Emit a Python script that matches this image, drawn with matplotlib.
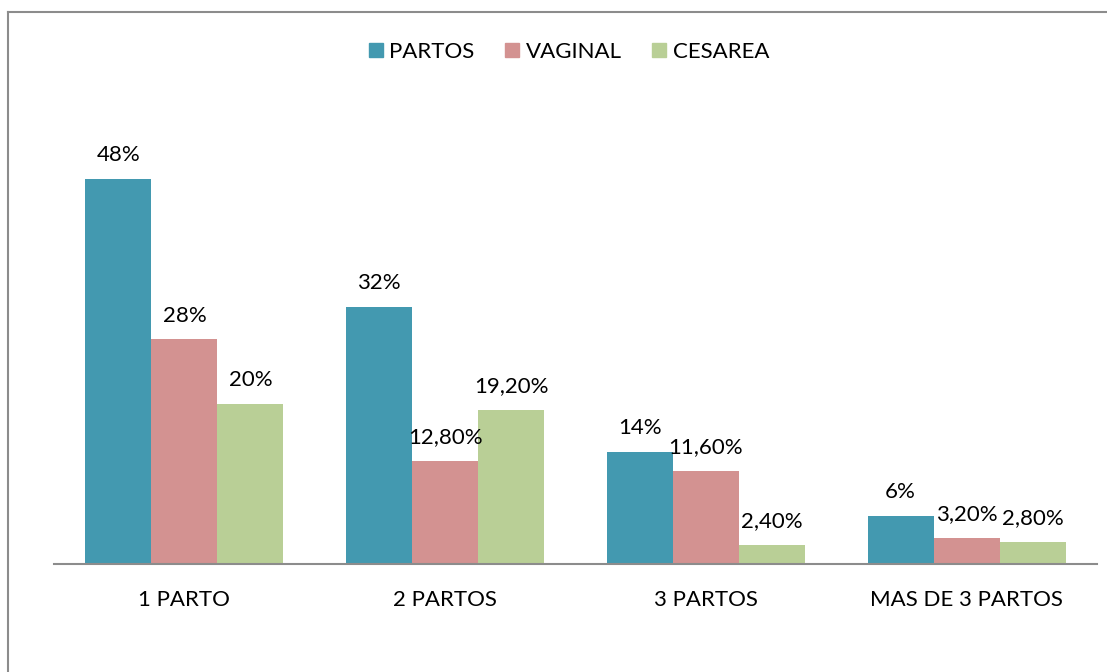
import matplotlib
matplotlib.use("Agg")
import matplotlib.pyplot as plt
from matplotlib.lines import Line2D
import numpy as np

categories = ["1 PARTO", "2 PARTOS", "3 PARTOS", "MAS DE 3 PARTOS"]
series_names = ["PARTOS", "VAGINAL", "CESAREA"]
partos = [48, 32, 14, 6]
vaginal = [28, 12.8, 11.6, 3.2]
cesarea = [20, 19.2, 2.4, 2.8]
labels_partos = ["48%", "32%", "14%", "6%"]
labels_vaginal = ["28%", "12,80%", "11,60%", "3,20%"]
labels_cesarea = ["20%", "19,20%", "2,40%", "2,80%"]
colors = ["#4399B0", "#D39291", "#B9CF96"]

plt.rcParams['font.family'] = ['Lato', 'DejaVu Sans']

W, H = 1107, 672
fig = plt.figure(figsize=(W / 100, H / 100), dpi=100)
left, right, bottom, top = 54, 1097, 564, 120
ax = fig.add_axes([left / W, 1 - bottom / H, (right - left) / W, (bottom - top) / H])

x = np.arange(len(categories))
bw = 0.253
fs = 16
data = [partos, vaginal, cesarea]
labs = [labels_partos, labels_vaginal, labels_cesarea]
handles = []
for i, (vals, lab, c, name) in enumerate(zip(data, labs, colors, series_names)):
    bars = ax.bar(x + (i - 1) * bw, vals, bw, color=c, label=name, zorder=2)
    for b, t in zip(bars, lab):
        ax.annotate(t, (b.get_x() + b.get_width() / 2, b.get_height()),
                    xytext=(0, 10), textcoords="offset points",
                    ha="center", va="bottom", fontsize=fs, color="#000000")
    handles.append(Line2D([], [], marker="s", linestyle="none", markersize=10,
                          markerfacecolor=c, markeredgecolor=c, label=name))

ax.set_xlim(-0.5, len(categories) - 0.5)
ax.set_ylim(0, (bottom - top) / 8.02)
ax.set_xticks(x)
ax.set_xticklabels(categories, fontsize=fs)
ax.tick_params(axis="x", length=0, pad=19)
ax.set_yticks([])
for s in ["left", "right", "top"]:
    ax.spines[s].set_visible(False)
ax.spines["bottom"].set_color("#8C8C8C")
ax.spines["bottom"].set_linewidth(1.5)

fig.legend(handles=handles, loc="center", bbox_to_anchor=(568 / W, 1 - 52 / H),
           ncol=3, frameon=False, fontsize=fs, handletextpad=0.2,
           columnspacing=1.3, handlelength=0.8)

fig.add_artist(Line2D([7.5 / W, 7.5 / W], [0, 1 - 12 / H], transform=fig.transFigure,
                      color="#8C8C8C", linewidth=1.5))
fig.add_artist(Line2D([7.5 / W, 1], [1 - 12 / H, 1 - 12 / H], transform=fig.transFigure,
                      color="#8C8C8C", linewidth=1.5))

fig.savefig("out.png", dpi=100, facecolor="white")
